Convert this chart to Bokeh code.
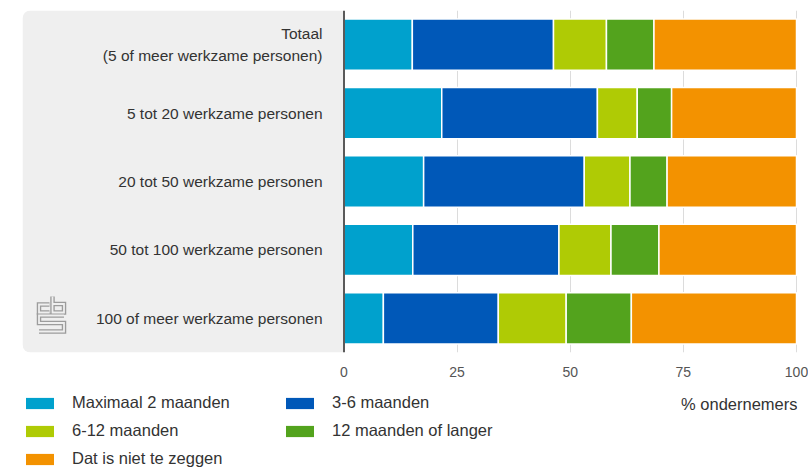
from bokeh.plotting import figure
from bokeh.layouts import column
from bokeh.models import (FactorRange, Range1d, FixedTicker, BoxAnnotation, Span,
                          Legend, LegendItem, Label, ColumnDataSource)
from bokeh.core.properties import value
from bokeh.embed import file_html
from bokeh.resources import INLINE

# ---------------- data ----------------
categories = [
    "Totaal\n(5 of meer werkzame personen)",
    "5 tot 20 werkzame personen",
    "20 tot 50 werkzame personen",
    "50 tot 100 werkzame personen",
    "100 of meer werkzame personen",
]
series = ["Maximaal 2 maanden", "3-6 maanden", "6-12 maanden",
          "12 maanden of langer", "Dat is niet te zeggen"]
max_2_maanden = [15.1, 21.6, 17.6, 15.2, 8.7]
maanden_3_6 = [31.2, 34.4, 35.5, 32.3, 25.4]
maanden_6_12 = [11.7, 8.8, 10.1, 11.5, 15.0]
maanden_12_plus = [10.5, 7.6, 8.2, 10.6, 14.4]
niet_te_zeggen = [31.5, 27.6, 28.6, 30.4, 36.5]
colors = ["#00a1cd", "#0058b8", "#afcb05", "#53a31d", "#f39200"]
x_ticks = [0, 25, 50, 75, 100]
x_title = "% ondernemers"

FONT = "Liberation Sans"
W = 808
FRAME_L, FRAME_R = 22, 797

source = ColumnDataSource(dict(
    cat=categories,
    s0=max_2_maanden, s1=maanden_3_6, s2=maanden_6_12,
    s3=maanden_12_plus, s4=niet_te_zeggen,
    lx=[-4.75] * len(categories),
))

# ---------------- main chart ----------------
p = figure(width=W, height=385, output_backend="svg", toolbar_location=None,
           y_range=FactorRange(factors=list(reversed(categories)), range_padding=0),
           x_range=Range1d(-71.05, 100.22),
           x_axis_location="below", y_axis_location=None,
           min_border_left=FRAME_L, min_border_right=W - FRAME_R, min_border_top=10,
           min_border_bottom=33)
p.outline_line_color = None
p.background_fill_color = "white"
p.border_fill_color = "white"

box = BoxAnnotation(right=0, fill_color="#efefef", fill_alpha=1, line_alpha=0,
                    border_radius=(8, 0, 0, 8), level="underlay")
p.add_layout(box)

p.ygrid.visible = False
p.xgrid.ticker = FixedTicker(ticks=[t for t in x_ticks if t > 0])
p.xgrid.grid_line_color = "#dcdcdc"
p.xgrid.grid_line_width = 1

keys = ["s0", "s1", "s2", "s3", "s4"]
bars = p.hbar_stack(keys, y="cat", height=0.75, color=colors, source=source,
                    line_color="white", line_width=1.5)

p.add_layout(Span(location=0, dimension="height", line_color="#5a5a5a", line_width=2))

p.text(x="lx", y="cat", text="cat", source=source, text_align="right",
       text_baseline="middle", text_font=value(FONT), text_font_size="15.5px",
       text_color="#333333", text_line_height=1.3)

ax = p.xaxis[0]
ax.ticker = FixedTicker(ticks=x_ticks)
ax.axis_line_color = None
ax.major_tick_line_color = None
ax.minor_tick_line_color = None
ax.major_tick_out = 0
ax.major_tick_in = 0
ax.major_label_standoff = 14
ax.major_label_text_font = FONT
ax.major_label_text_font_size = "14px"
ax.major_label_text_color = "#555555"

# CBS logo (decoration), pixel paths converted to data coordinates
def px2x(px):
    return (px - 343.5) / 4.525

def py2y(py):
    return 5 - (py - 10) / 68.4

logo_paths = [
    [(49, 304), (38.5, 304), (38.5, 312), (49, 312)],
    [(52, 296), (52, 312), (63.5, 312), (63.5, 303.5), (52, 303.5)],
    [(63.5, 315), (38.5, 315), (38.5, 322.5), (63.5, 322.5), (63.5, 331), (38.5, 331)],
]
lxs = [[px2x(a) for a, b in path] for path in logo_paths]
lys = [[py2y(b) for a, b in path] for path in logo_paths]
p.multi_line(lxs, lys, line_color="#9c9c9c", line_width=4.5, line_join="miter")
p.multi_line(lxs, lys, line_color="#efefef", line_width=1.8, line_join="miter")

# ---------------- legend strip ----------------
LH = 82
q = figure(width=W, height=LH, output_backend="svg", toolbar_location=None,
           x_range=Range1d(FRAME_L, FRAME_R), y_range=Range1d(0, LH),
           x_axis_location=None, y_axis_location=None, title=None,
           min_border=0, min_border_left=FRAME_L, min_border_right=W - FRAME_R,
           min_border_top=0, min_border_bottom=0)
q.outline_line_color = None
q.grid.visible = False
q.background_fill_color = "white"
q.border_fill_color = "white"

# swatch renderers for the legend (their bar lies outside the visible range)
rs = [q.hbar(y=[-50], right=[v[0]], height=1, fill_color=c, line_alpha=0)
      for v, c in zip([max_2_maanden, maanden_3_6, maanden_6_12, maanden_12_plus,
                       niet_te_zeggen], colors)]
legend = Legend(items=[LegendItem(label=s, renderers=[r]) for s, r in zip(series, rs)],
                location=(0, -1), orientation="horizontal", ncols=2,
                glyph_width=35, glyph_height=14, label_standoff=15, spacing=9,
                padding=0, margin=0, border_line_alpha=0, background_fill_alpha=0,
                label_text_font=FONT, label_text_font_size="16.5px",
                label_text_color="#333333", label_width=201)
q.add_layout(legend)

q.add_layout(Label(x=FRAME_R, y=LH - 18, text=x_title,
                   text_align="right", text_baseline="middle", text_font=FONT,
                   text_font_size="16.5px", text_color="#333333"))

layout = column(p, q, spacing=0)
open("out.html", "w").write(file_html(layout, INLINE))
